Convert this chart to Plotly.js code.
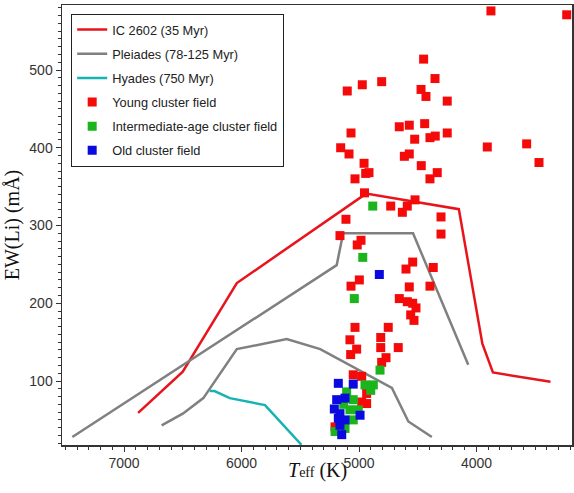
<!DOCTYPE html>
<html>
<head>
<meta charset="utf-8">
<script src="https://cdn.plot.ly/plotly-3.0.1.min.js"></script>
<style>
  html, body { margin: 0; padding: 0; background: #fff; }
  #chart { width: 574px; height: 493px; }
</style>
</head>
<body>
<div id="chart"></div>
<script>
// Lithium equivalent width against effective temperature:
// cluster reference sequences plus field stars grouped by age.

// IC 2602 (35 Myr) upper envelope
const ic2602Teff = [6880, 6500, 6040, 4940, 4150, 3950, 3860, 3370];
const ic2602EW   = [59, 112, 226, 341, 321, 148, 111, 99];

// Pleiades (78-125 Myr): upper and lower envelopes, separated by a gap
const pleiadesTeff = [7440, 5190, 5135, 4540, 4070, null, 6680, 6500, 6325, 6040, 5615, 5330, 4720, 4580, 4380];
const pleiadesEW   = [28, 249, 290, 290, 121, null, 43, 58, 78, 141, 154, 141, 91, 48, 28];

// Hyades (750 Myr)
const hyadesTeff = [6270, 6230, 6100, 5800, 5490];
const hyadesEW   = [87, 87, 78, 69, 18];

// Young cluster field stars
const youngTeff = [3877, 3232, 4450, 4353, 5100, 4972, 4807, 4472, 4430, 4249,
                   5068, 4657, 4572, 4441, 4249, 4526, 4396, 4351, 5156, 5085,
                   3908, 3573, 3468, 4614, 4572, 4957, 4915, 4943, 4470, 4334,
                   4396, 5034, 4953, 4523, 4730, 4589, 4631, 5111, 4302, 4302,
                   5162, 4983, 5015, 4543, 4600, 4368, 4997, 5068, 4572, 4396,
                   4657, 4589, 4543, 4515, 4560, 4532, 5034, 4751, 5077, 4815,
                   5020, 4815, 4666, 5071, 4770, 4807, 5049, 4977, 4935, 4977,
                   4935, 5204];
const youngEW   = [576, 571, 514, 489, 473, 481, 485, 475, 466, 460,
                   419, 427, 429, 431, 419, 411, 413, 415, 400, 392,
                   401, 405, 381, 389, 392, 380, 368, 367, 377, 368,
                   360, 360, 342, 333, 325, 325, 317, 308, 311, 289,
                   287, 281, 275, 253, 244, 246, 230, 222, 221, 222,
                   206, 202, 200, 194, 185, 178, 169, 169, 153, 156,
                   141, 143, 143, 134, 130, 124, 108, 106, 84, 73,
                   71, 41];

// Intermediate-age cluster field stars
const interTeff = [4883, 4968, 5040, 4821, 4949, 4878, 5105, 5049, 5077, 5006, 5049, 5119, 5204, 4900, 5130];
const interEW   = [325, 259, 206, 114, 95, 95, 86, 76, 63, 63, 50, 39, 35, 88, 70];

// Old cluster field stars
const oldTeff = [4827, 5176, 5049, 5190, 5119, 5162, 4991, 5176, 5119, 5162, 5147, 5210];
const oldEW   = [237, 97, 96, 76, 78, 58, 56, 52, 50, 43, 31, 64];

const lineW = 2.5;
const sq = 9;

const traces = [
  { x: ic2602Teff, y: ic2602EW, mode: 'lines', name: 'IC 2602 (35 Myr)',
    legendgroup: 'a', line: { color: '#e8141c', width: lineW } },
  { x: pleiadesTeff, y: pleiadesEW, mode: 'lines', name: 'Pleiades (78-125 Myr)',
    legendgroup: 'b', connectgaps: false, line: { color: '#808080', width: lineW } },
  { x: hyadesTeff, y: hyadesEW, mode: 'lines', name: 'Hyades (750 Myr)',
    legendgroup: 'c', line: { color: '#17b3b3', width: lineW } },
  { x: youngTeff, y: youngEW, mode: 'markers', name: 'Young cluster field',
    legendgroup: 'd', marker: { symbol: 'square', size: sq, color: '#f50a0a' } },
  { x: interTeff, y: interEW, mode: 'markers', name: 'Intermediate-age cluster field',
    legendgroup: 'e', marker: { symbol: 'square', size: sq, color: '#1cb41c' } },
  { x: oldTeff, y: oldEW, mode: 'markers', name: 'Old cluster field',
    legendgroup: 'f', marker: { symbol: 'square', size: sq, color: '#0a0ae0' } }
];

const tickFont = { family: 'Liberation Sans, Arial, sans-serif', size: 14, color: '#333' };
const titleFont = { family: 'Liberation Serif, Times New Roman, serif', size: 20, color: '#111' };

const layout = {
  width: 574,
  height: 493,
  margin: { l: 62, r: 2, t: 5, b: 48 },
  paper_bgcolor: '#fff',
  plot_bgcolor: '#fff',
  showlegend: true,
  legend: {
    x: 0.018, y: 0.98, xanchor: 'left', yanchor: 'top',
    bgcolor: '#fff', bordercolor: '#222', borderwidth: 1,
    font: { family: 'Liberation Sans, Arial, sans-serif', size: 12.8, color: '#222' },
    traceorder: 'grouped', tracegroupgap: 4.5
  },
  xaxis: {
    range: [7528, 3187],
    tickvals: [7000, 6000, 5000, 4000],
    ticks: 'outside', ticklen: 5, tickwidth: 1, tickcolor: '#333',
    minor: { dtick: 100, ticks: 'outside', ticklen: 3, tickcolor: '#333' },
    showgrid: false, zeroline: false,
    showline: true, linecolor: '#333', linewidth: 1.5, mirror: true,
    tickfont: tickFont
  },
  yaxis: {
    range: [17.7, 583.6],
    tickvals: [100, 200, 300, 400, 500],
    ticks: 'outside', ticklen: 5, tickwidth: 1, tickcolor: '#333',
    minor: { dtick: 10, tick0: 0, ticks: 'outside', ticklen: 3, tickcolor: '#333' },
    showgrid: false, zeroline: false,
    showline: true, linecolor: '#333', linewidth: 1.5, mirror: true,
    tickfont: tickFont,
    title: { text: 'EW(Li) (mÅ)', font: titleFont, standoff: 4 }
  },
  annotations: [{
    // x-axis title, set just under the tick labels
    text: '<i>T</i><span style="font-size:14px">eff</span> (K)',
    xref: 'paper', yref: 'paper', x: 0.5, y: -0.057,
    xanchor: 'center', yanchor: 'middle', showarrow: false,
    font: titleFont
  }]
};

Plotly.newPlot('chart', traces, layout, { displayModeBar: false, staticPlot: true });
</script>
</body>
</html>
